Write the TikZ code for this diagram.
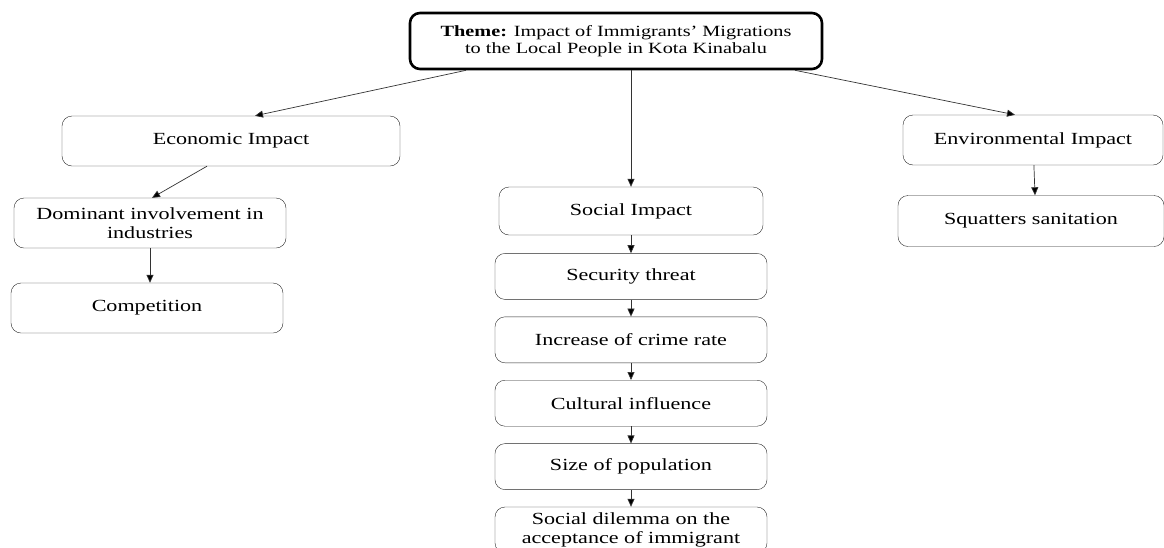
\documentclass[tikz,border=0pt]{standalone}
\usepackage{fontspec}
\setmainfont{Liberation Serif}[FakeStretch=1.3]
\usetikzlibrary{positioning,arrows.meta}

\begin{document}
\begin{tikzpicture}[
        x=1pt, y=-1pt,
        node distance=17pt,
        every node/.style={font=\fontsize{17}{19}\selectfont},
        block/.style={draw=black!85, rounded corners=10pt, align=center,
                      minimum height=46pt, minimum width=272pt,
                      inner xsep=4pt, inner ysep=3pt},
        theme/.style={block, draw=black, line width=2.6pt,
                      minimum width=412pt, minimum height=56pt,
                      font=\fontsize{15.6}{17}\selectfont},
        arrow/.style={-{Triangle[length=8pt,width=7pt,fill=black]}, draw=black!80, line width=0.7pt}
    ]
        \useasboundingbox (0,0) rectangle (1164,547);

        \node[theme] (theme) at (616,41) {\textbf{Theme:} Impact of Immigrants' Migrations\\to the Local People in Kota Kinabalu};

        % economic branch
        \node[block, minimum width=338pt, minimum height=50pt] (econ) at (231,141) {Economic Impact};
        \node[block, minimum height=50pt] (dominant) at (150,223) {Dominant involvement in\\industries};
        \node[block, minimum height=50pt] (compet) at (147,308) {Competition};

        % social branch
        \node[block, minimum width=264pt, minimum height=48pt] (social) at (631,211) {Social Impact};
        \node[block, below=18pt of social] (security) {Security threat};
        \node[block, below=of security] (crime) {Increase of crime rate};
        \node[block, below=of crime] (culture) {Cultural influence};
        \node[block, below=of culture] (popsize) {Size of population};
        \node[block, below=of popsize] (dilemma) {Social dilemma on the\\acceptance of immigrant};

        % environmental branch
        \node[block, minimum width=260pt, minimum height=50pt] (envir) at (1033,140) {Environmental Impact};
        \node[block, minimum width=266pt, minimum height=51pt] (squat) at (1031,221) {Squatters sanitation};

        \draw[arrow] ([xshift=-150pt]theme.south) -- ([xshift=24pt]econ.north);
        \draw[arrow] (theme.south -| social) -- (social);
        \draw[arrow] ([xshift=179pt]theme.south) -- ([xshift=-18pt]envir.north);
        \draw[arrow] ([xshift=-24pt]econ.south) -- ([xshift=2pt]dominant.north);
        \draw[arrow] (dominant) -- (dominant |- compet.north);
        \draw[arrow] (social) -- (security);
        \draw[arrow] (security) -- (crime);
        \draw[arrow] (crime) -- (culture);
        \draw[arrow] (culture) -- (popsize);
        \draw[arrow] (popsize) -- (dilemma);
        \draw[arrow] (envir) -- ([xshift=4pt]squat.north);
    \end{tikzpicture}
\end{document}
